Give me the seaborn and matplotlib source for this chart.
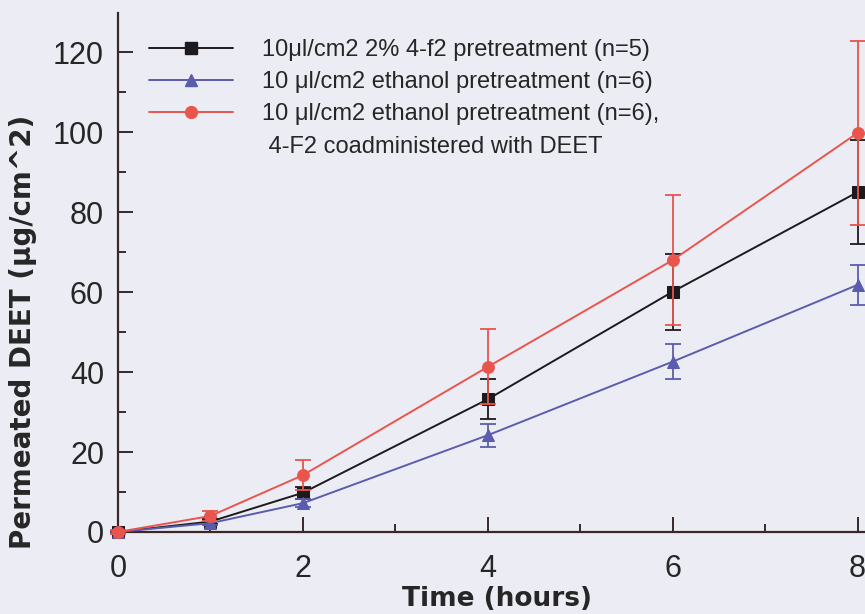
import numpy as np
import pandas as pd
import matplotlib
matplotlib.use("Agg")
import matplotlib.pyplot as plt
from matplotlib.lines import Line2D
from matplotlib.ticker import MultipleLocator
import seaborn as sns

# --- data ---
time_h = [0, 1, 2, 4, 6, 8]

f2_mean = [0.0, 2.6, 9.8, 33.2, 60.1, 85.0]
f2_sd = [0.3, 0.6, 1.5, 5.0, 9.5, 13.0]

eth_mean = [0.0, 2.2, 7.2, 24.2, 42.6, 61.8]
eth_sd = [0.2, 0.5, 1.0, 2.9, 4.3, 5.0]

coad_mean = [0.0, 4.0, 14.2, 41.3, 68.0, 99.8]
coad_sd = [0.5, 1.2, 3.8, 9.4, 16.3, 23.0]

labels = [
    "10\u03bcl/cm2 2% 4-f2 pretreatment (n=5)",
    "10 \u03bcl/cm2 ethanol pretreatment (n=6)",
    "10 \u03bcl/cm2 ethanol pretreatment (n=6),",
]
extra_label = " 4-F2 coadministered with DEET"

colors = ["#1c1a1c", "#5c5cae", "#e9554d"]
markers = ["s", "^", "o"]

bg = "#ecedf4"
axis_col = "#3a2828"

sns.set_style("ticks")
plt.rcParams["font.family"] = ["Liberation Sans", "DejaVu Sans"]

fig = plt.figure(figsize=(8.65, 6.14), dpi=100, facecolor=bg)
ax = fig.add_axes([0.1364, 0.1336, 0.8636, 0.8452])
ax.set_facecolor(bg)

series = [(f2_mean, f2_sd), (eth_mean, eth_sd), (coad_mean, coad_sd)]
handles = []
for (m, sd), lab, c, mk in zip(series, labels, colors, markers):
    df = pd.DataFrame({"time": time_h, "val": m})
    sns.lineplot(data=df, x="time", y="val", ax=ax, color=c, marker=mk,
                 markersize=8.5, markeredgecolor=c, linewidth=1.4,
                 errorbar=None, clip_on=False, legend=False, zorder=3)
    ax.errorbar(time_h, m, yerr=sd, fmt="none", ecolor=c, elinewidth=1.3,
                capsize=5.5, capthick=1.3, clip_on=False, zorder=3)
    handles.append(Line2D([], [], color=c, marker=mk, markersize=8.5,
                          linewidth=1.4))
handles.append(Line2D([], [], color="none", marker=None, linewidth=0))

leg = ax.legend(handles, labels + [extra_label], loc="upper left",
                bbox_to_anchor=(0.029, 0.968), frameon=False, fontsize=17,
                handlelength=3.55, handletextpad=1.25, labelspacing=0.43,
                borderaxespad=0)

ax.set_xlim(0, 8.08)
ax.set_ylim(0, 129.8)
ax.xaxis.set_major_locator(MultipleLocator(2))
ax.xaxis.set_minor_locator(MultipleLocator(1))
ax.yaxis.set_major_locator(MultipleLocator(20))
ax.yaxis.set_minor_locator(MultipleLocator(10))

ax.tick_params(axis="both", which="major", direction="in", length=11,
               width=1.4, color=axis_col, labelsize=22)
ax.tick_params(axis="both", which="minor", direction="in", length=6,
               width=1.4, color=axis_col)
ax.tick_params(axis="x", pad=16)
ax.tick_params(axis="y", pad=10)

for side in ["top", "right"]:
    ax.spines[side].set_visible(False)
for side in ["left", "bottom"]:
    ax.spines[side].set_color(axis_col)
    ax.spines[side].set_linewidth(1.6)

ax.set_xlabel("Time (hours)", fontsize=19, fontweight="bold",
              family=["DejaVu Sans"])
ax.set_ylabel("Permeated DEET (\u03bcg/cm^2)", fontsize=20,
              fontweight="bold", family=["DejaVu Sans"])
# label positions as in the original (y label sits low)
ax.xaxis.set_label_coords(0.507, -0.104)
ax.yaxis.set_label_coords(-0.108, 0.385)

fig.savefig("out.png", dpi=100, facecolor=bg)
